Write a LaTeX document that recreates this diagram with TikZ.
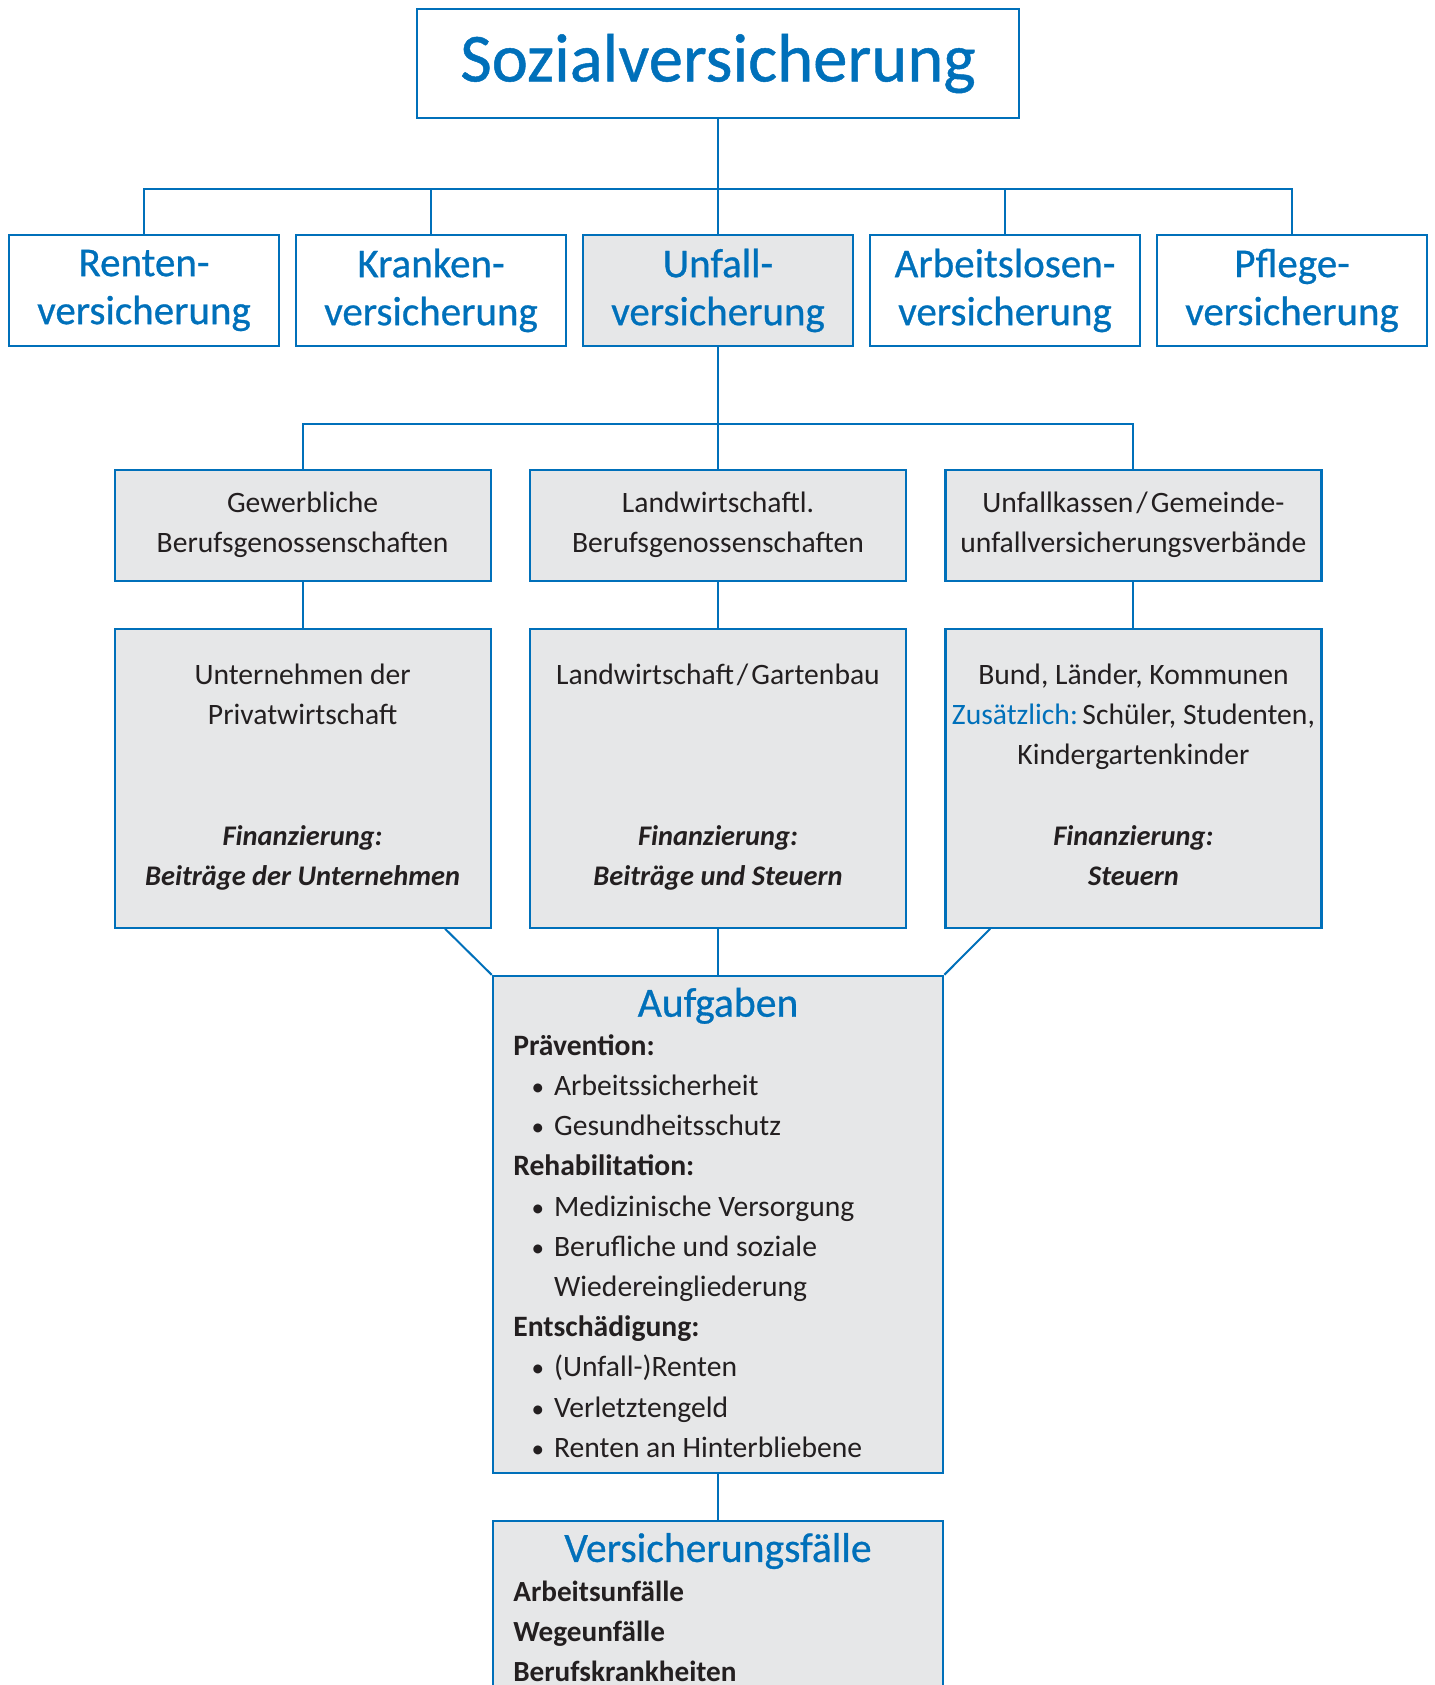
\documentclass[tikz,border=0pt]{standalone}
\usepackage{fontspec}
\setmainfont{Carlito}
\newfontfamily\headfont{Carlito}[FakeBold=0.7]
\usetikzlibrary{positioning}
\definecolor{svblue}{RGB}{0,112,186}
\definecolor{svgray}{RGB}{230,231,232}
\definecolor{svtext}{RGB}{35,31,32}
\newcommand{\bul}{\hspace*{9.2pt}\makebox[11.2pt][l]{\scalebox{0.85}{\textbullet}}}
\newcommand{\ind}{\hspace*{20.4pt}}
\newcommand{\sla}{\kern1.5pt/\kern1.5pt}

\begin{document}
\begin{tikzpicture}[x=1pt,y=-1pt,node distance=7.5pt,line width=1pt]

	\tikzset{box/.style={draw=svblue, line width=1.1pt, inner sep=0pt, align=center},
		top box/.style={box, minimum width=301pt, minimum height=54.5pt,
			text=svblue, font=\headfont\fontsize{34.3}{38}\selectfont},
		kind box/.style={box, minimum width=134.9pt, minimum height=55.5pt,
			text=svblue, font=\headfont\fontsize{20.5}{24}\selectfont},
		org box/.style={box, fill=svgray, minimum width=188pt, minimum height=55.4pt,
			text=svtext, font=\fontsize{14.8}{20}\selectfont},
		mem box/.style={box, fill=svgray, minimum width=188pt, minimum height=149.4pt},
		task box/.style={box, fill=svgray, minimum width=225.2pt, minimum height=248.4pt},
		body txt/.style={inner sep=0pt, align=center, text=svtext,
			font=\fontsize{14.8}{20}\selectfont},
		fin txt/.style={body txt, font=\fontsize{14.2}{20}\selectfont\bfseries\itshape},
		head txt/.style={inner sep=0pt, text=svblue, font=\headfont\fontsize{20.8}{24}\selectfont},
		list txt/.style={inner sep=0pt, align=left, text=svtext,
			font=\fontsize{14.8}{20.1}\selectfont},
		link/.style={draw=svblue, line width=1pt}}

	\useasboundingbox (0,0) rectangle (717,842.5);

	% Kopf und Zweige
	\node[top box] (sv) at (359,31.75) {Sozialversicherung};
	\node[kind box, fill=svgray, below=57.4pt of sv] (unfall) {Unfall-\\versicherung};
	\node[kind box, left=of unfall] (kranken) {Kranken-\\versicherung};
	\node[kind box, left=of kranken] (renten) {Renten-\\versicherung};
	\node[kind box, right=of unfall] (arbeitslos) {Arbeitslosen-\\versicherung};
	\node[kind box, right=of arbeitslos] (pflege) {Pflege-\\versicherung};

	% Traeger
	\node[org box, below=60.8pt of unfall] (lbg) {Landwirtschaftl.\\Berufsgenossenschaften};
	\node[org box, left=18.6pt of lbg] (gbg) {Gewerbliche\\Berufsgenossenschaften};
	\node[org box, right=18.6pt of lbg] (ukas) {Unfallkassen\sla Gemeinde-\\unfallversicherungsverbände};

	% Versicherte
	\node[mem box, below=23.05pt of gbg] (gmem) {};
	\node[mem box, below=23.05pt of lbg] (lmem) {};
	\node[mem box, below=23.05pt of ukas] (umem) {};
	\node[body txt, below=17.6pt of gmem.north] (gmem txt) {Unternehmen der\\Privatwirtschaft};
	\node[body txt, below=17.6pt of lmem.north] (lmem txt) {Landwirtschaft\sla Gartenbau};
	\node[body txt, below=17.6pt of umem.north] (umem txt) {Bund, Länder, Kommunen\\
		\textcolor{svblue}{Zusätzlich:}\hspace{0.15em}Schüler, Studenten,\\Kindergartenkinder};
	\node[fin txt, below=98.6pt of gmem.north] (gmem fin) {Finanzierung:\\Beiträge der Unternehmen};
	\node[fin txt, below=98.6pt of lmem.north] (lmem fin) {Finanzierung:\\Beiträge und Steuern};
	\node[fin txt, below=98.6pt of umem.north] (umem fin) {Finanzierung:\\Steuern};

	% Aufgaben
	\node[task box, below=23pt of lmem] (aufg) {};
	\node[head txt, below=6pt of aufg.north] (aufg head) {Aufgaben};
	\node[list txt, below right=29.3pt and 10.3pt of aufg.north west] (aufg list) {%
		\textbf{Prävention:}\\
		\bul Arbeitssicherheit\\
		\bul Gesundheitsschutz\\
		\textbf{Rehabilitation:}\\
		\bul Medizinische Versorgung\\
		\bul Berufliche und soziale\\
		\ind Wiedereingliederung\\
		\textbf{Entschädigung:}\\
		\bul (Unfall-)Renten\\
		\bul Verletztengeld\\
		\bul Renten an Hinterbliebene};

	% Versicherungsfaelle
	\node[task box, minimum height=130pt, below=23.1pt of aufg] (vf) {};
	\node[head txt, below=6pt of vf.north] (vf head) {Versicherungsfälle};
	\node[list txt, font=\fontsize{14.6}{20.1}\selectfont\bfseries,
		below right=29.8pt and 10.3pt of vf.north west] (vf list) {%
		Arbeitsunfälle\\Wegeunfälle\\Berufskrankheiten};

	% Verbindungen
	\coordinate (bus top) at (359,94.6);
	\coordinate (bus mid) at (359,211.8);
	\draw[link] (renten.north) |- (bus top) -| (pflege.north);
	\draw[link] (sv.south) -- (unfall.north);
	\draw[link] (kranken.north) -- (kranken.north |- bus top);
	\draw[link] (arbeitslos.north) -- (arbeitslos.north |- bus top);
	\draw[link] (gbg.north) |- (bus mid) -| (ukas.north);
	\draw[link] (unfall.south) -- (lbg.north);
	\draw[link] (gbg) -- (gmem);
	\draw[link] (lbg) -- (lmem);
	\draw[link] (ukas) -- (umem);
	\draw[link] (lmem) -- (aufg);
	\draw[link] ([xshift=-23.3pt]gmem.south east) -- (aufg.north west);
	\draw[link] ([xshift=22.9pt]umem.south west) -- (aufg.north east);
	\draw[link] (aufg) -- (vf);

\end{tikzpicture}
\end{document}
